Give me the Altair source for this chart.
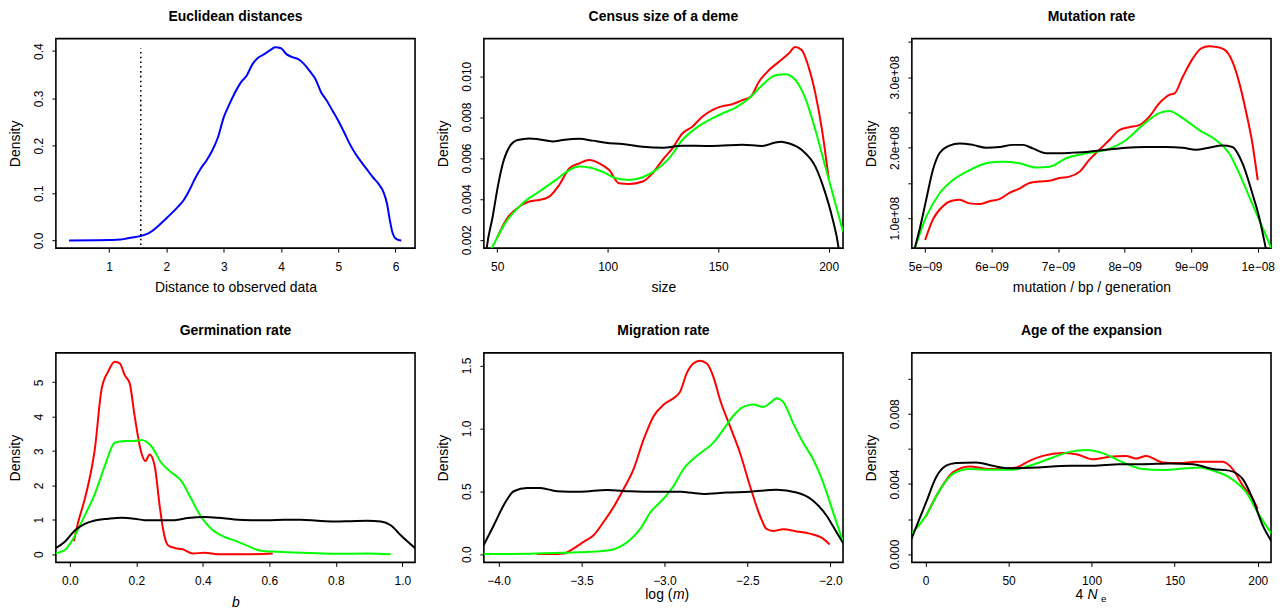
import altair as alt
import pandas as pd

FONT = "Liberation Sans"
W, H = 360, 210
LINE_W = 2.0
C_PRIOR, C_REJ, C_REG, C_OBS = "#000000", "#FF0000", "#00FF00", "#0000FF"

# ---------------- Panel 1: Euclidean distances ----------------
EUC_X = [0.3, 0.8, 1.0, 1.2, 1.3, 1.4, 1.5, 1.7, 2.0, 2.2, 2.3, 2.4, 2.5, 2.6, 2.7, 2.8, 2.9,
         3.0, 3.1, 3.2, 3.3, 3.4, 3.5, 3.6, 3.7, 3.8, 3.9, 4.0, 4.1, 4.2, 4.3, 4.4, 4.5,
         4.6, 4.7, 4.8, 4.9, 5.0, 5.1, 5.2, 5.3, 5.4, 5.5, 5.6, 5.7, 5.8, 5.85, 5.9,
         5.95, 6.0, 6.05, 6.1]
EUC_Y = [0.0, 0.0005, 0.001, 0.002, 0.004, 0.006, 0.008, 0.016, 0.047, 0.071, 0.085, 0.106,
         0.131, 0.152, 0.169, 0.190, 0.218, 0.260, 0.288, 0.313, 0.334, 0.348, 0.372,
         0.386, 0.393, 0.401, 0.408, 0.406, 0.393, 0.387, 0.383, 0.373, 0.358, 0.341,
         0.313, 0.295, 0.274, 0.253, 0.229, 0.204, 0.183, 0.166, 0.150, 0.134, 0.120,
         0.099, 0.078, 0.043, 0.015, 0.004, 0.001, 0.0]
OBS_X = [1.552]
OBS_Y0 = [-0.03]
OBS_Y1 = [0.406]

# ---------------- Panel 2: Census size of a deme ----------------
CEN_K_X = [44.6, 45.3, 48, 50.3, 52.6, 55.6, 59.3, 64.6, 69.1, 75.1, 79.6, 87.2, 93.2, 99.2,
           106.7, 115.8, 124.8, 133.8, 144.3, 150.4, 160.9, 169.9, 175.9, 178.5, 181.9,
           187.9, 194, 198.5, 201.5, 204.5, 205.3]
CEN_K_Y = [0.0009, 0.0016, 0.00314, 0.0046, 0.00574, 0.00655, 0.00688, 0.00696, 0.00691,
           0.00681, 0.00688, 0.00694, 0.00685, 0.00675, 0.00668, 0.00655, 0.0065, 0.0066,
           0.00659, 0.0066, 0.00665, 0.00659, 0.00676, 0.00680, 0.00672, 0.00639, 0.00558,
           0.00428, 0.00314, 0.0016, 0.0009]
CEN_R_X = [50.0, 54.1, 60.1, 64.6, 69.1, 73.6, 78.1, 82.7, 87.2, 91.7, 96.2, 100.7, 105.2,
           109.7, 115.8, 120.3, 124.8, 129.3, 133.8, 138.3, 142.8, 147.3, 151.9, 156.4,
           160.9, 164.7, 168.4, 172.9, 177.4, 181.9, 184.9, 187.9, 190.9, 194, 197, 200]
CEN_R_Y = [0.0021, 0.00298, 0.00363, 0.00387, 0.00395, 0.00411, 0.00468, 0.0055, 0.00574,
           0.0059, 0.00574, 0.00541, 0.00476, 0.00473, 0.00485, 0.00525, 0.0059, 0.00647,
           0.0072, 0.00753, 0.00802, 0.00834, 0.00854, 0.00863, 0.00883, 0.00899, 0.00972,
           0.01029, 0.0107, 0.01111, 0.01143, 0.01127, 0.01046, 0.00915, 0.00737, 0.005]
CEN_G_X = [45.5, 47.3, 54.1, 61.6, 69.1, 76.6, 82.7, 87.2, 91.7, 97.7, 103.7, 109.7, 115.8,
           121.8, 127.8, 133.8, 139.8, 145.8, 151.9, 157.9, 163.9, 169.9, 175.9, 180.5, 185,
           189.5, 194, 198.5, 203, 206.5]
CEN_G_Y = [0.0012, 0.00155, 0.00289, 0.00379, 0.00436, 0.00493, 0.00541, 0.00558, 0.00554,
           0.00533, 0.00501, 0.00493, 0.00506, 0.00541, 0.00598, 0.00688, 0.00745, 0.00785,
           0.00818, 0.00847, 0.00891, 0.00956, 0.01005, 0.0101, 0.00981, 0.00891, 0.00737,
           0.00558, 0.00379, 0.0024]

# ---------------- Panel 3: Mutation rate (x in 1e-9, y in 1e8) ----------------
MUT_XU, MUT_YU = 1e-9, 1e8
MUT_K_X = [4.80, 4.84, 4.915, 5.015, 5.115, 5.215, 5.366, 5.516, 5.716, 5.917, 6.117, 6.318,
           6.468, 6.618, 6.819, 7.02, 7.22, 7.42, 7.72, 8.02, 8.32, 8.62, 8.87, 9.07, 9.27,
           9.47, 9.62, 9.77, 9.92, 10.02, 10.12, 10.16]
MUT_K_Y = [0.40, 0.56, 0.835, 1.26, 1.68, 1.92, 2.03, 2.06, 2.04, 2.0, 2.01, 2.04, 2.04, 1.99,
           1.92, 1.92, 1.93, 1.94, 1.97, 2.0, 2.01, 2.01, 2.0, 1.97, 2.0, 2.03, 2.01, 1.78,
           1.35, 1.02, 0.58, 0.40]
MUT_R_X = [5.0, 5.115, 5.266, 5.416, 5.516, 5.666, 5.817, 5.967, 6.117, 6.268, 6.418, 6.568,
           6.718, 6.869, 7.02, 7.17, 7.32, 7.47, 7.62, 7.77, 7.92, 8.07, 8.22, 8.37, 8.52,
           8.67, 8.75, 8.87, 9.02, 9.15, 9.27, 9.37, 9.5, 9.62, 9.72, 9.82, 9.92, 10.0]
MUT_R_Y = [0.69, 0.98, 1.17, 1.25, 1.26, 1.21, 1.20, 1.24, 1.27, 1.36, 1.42, 1.50, 1.52, 1.53,
           1.57, 1.59, 1.66, 1.83, 1.97, 2.11, 2.25, 2.29, 2.32, 2.44, 2.63, 2.75, 2.77, 3.0,
           3.26, 3.41, 3.44, 3.43, 3.39, 3.22, 2.93, 2.53, 2.06, 1.54]
MUT_G_X = [4.80, 4.84, 5.015, 5.215, 5.416, 5.666, 5.917, 6.167, 6.418, 6.668, 6.869, 7.12,
           7.42, 7.72, 8.02, 8.27, 8.52, 8.67, 8.87, 9.12, 9.37, 9.57, 9.72, 9.87, 10.02,
           10.17, 10.20]
MUT_G_Y = [0.45, 0.56, 1.02, 1.35, 1.54, 1.68, 1.78, 1.80, 1.78, 1.72, 1.73, 1.85, 1.92, 1.97,
           2.11, 2.32, 2.49, 2.52, 2.42, 2.25, 2.11, 1.92, 1.64, 1.31, 0.98, 0.65, 0.58]

# ---------------- Panel 4: Germination rate ----------------
GER_K_X = [-0.045, -0.015, 0.015, 0.045, 0.075, 0.115, 0.155, 0.195, 0.225, 0.275, 0.315,
           0.355, 0.405, 0.445, 0.495, 0.545, 0.595, 0.645, 0.695, 0.745, 0.795, 0.845,
           0.895, 0.935, 0.965, 0.995, 1.04]
GER_K_Y = [0.16, 0.36, 0.69, 0.88, 0.98, 1.03, 1.06, 1.03, 0.99, 0.99, 0.99, 1.05, 1.08, 1.06,
           1.01, 0.99, 0.99, 1.0, 1.0, 0.97, 0.95, 0.96, 0.97, 0.95, 0.84, 0.55, 0.16]
GER_R_X = [0.012, 0.025, 0.045, 0.065, 0.075, 0.095, 0.115, 0.135, 0.15, 0.165, 0.18, 0.195,
           0.215, 0.227, 0.24, 0.255, 0.27, 0.28, 0.295, 0.315, 0.34, 0.37, 0.405, 0.445,
           0.495, 0.545, 0.61]
GER_R_Y = [0.38, 0.93, 1.61, 2.47, 3.05, 4.78, 5.31, 5.60, 5.55, 5.21, 4.97, 4.01, 2.95, 2.71,
           2.90, 2.57, 1.41, 0.74, 0.26, 0.18, 0.14, 0.02, 0.04, 0.0, 0.0, 0.0, 0.02]
GER_G_X = [-0.045, -0.015, 0.01, 0.045, 0.075, 0.105, 0.135, 0.165, 0.195, 0.215, 0.245,
           0.275, 0.305, 0.335, 0.365, 0.395, 0.425, 0.465, 0.495, 0.535, 0.575, 0.625,
           0.695, 0.795, 0.895, 0.965]
GER_G_Y = [0.02, 0.12, 0.45, 1.13, 1.75, 2.57, 3.24, 3.29, 3.29, 3.32, 3.14, 2.66, 2.38, 2.13,
           1.61, 1.08, 0.74, 0.50, 0.40, 0.24, 0.10, 0.07, 0.04, 0.01, 0.02, 0.0]

# ---------------- Panel 5: Migration rate ----------------
MIG_K_X = [-4.09, -4.028, -3.968, -3.908, -3.828, -3.747, -3.647, -3.507, -3.347, -3.206,
           -3.046, -2.906, -2.766, -2.625, -2.485, -2.325, -2.204, -2.104, -2.024, -1.964,
           -1.92]
MIG_K_Y = [0.07, 0.23, 0.39, 0.50, 0.525, 0.525, 0.50, 0.496, 0.51, 0.50, 0.496, 0.496, 0.478,
           0.49, 0.496, 0.512, 0.49, 0.425, 0.307, 0.176, 0.08]
MIG_R_X = [-3.77, -3.687, -3.607, -3.547, -3.487, -3.427, -3.367, -3.307, -3.246, -3.186,
           -3.126, -3.066, -3.006, -2.946, -2.906, -2.866, -2.826, -2.786, -2.745, -2.705,
           -2.665, -2.605, -2.545, -2.485, -2.425, -2.385, -2.345, -2.285, -2.204, -2.124,
           -2.044, -2.004]
MIG_R_Y = [0.0, 0.0, 0.005, 0.045, 0.097, 0.15, 0.255, 0.373, 0.517, 0.675, 0.91, 1.095,
           1.187, 1.24, 1.29, 1.437, 1.515, 1.537, 1.515, 1.41, 1.227, 1.017, 0.806, 0.544,
           0.307, 0.2, 0.184, 0.197, 0.18, 0.163, 0.123, 0.076]
MIG_G_X = [-4.09, -3.81, -3.61, -3.41, -3.33, -3.27, -3.21, -3.146, -3.086, -3.006, -2.946,
           -2.886, -2.806, -2.706, -2.645, -2.585, -2.525, -2.465, -2.405, -2.365, -2.325,
           -2.285, -2.224, -2.164, -2.104, -2.044, -1.984, -1.92]
MIG_G_Y = [0.0, 0.003, 0.01, 0.02, 0.03, 0.058, 0.11, 0.2, 0.33, 0.44, 0.54, 0.675, 0.78,
           0.885, 0.99, 1.10, 1.17, 1.19, 1.17, 1.2, 1.24, 1.21, 1.04, 0.885, 0.754, 0.57,
           0.334, 0.08]

# ---------------- Panel 6: Age of the expansion ----------------
AGE_K_X = [-8.5, -3.6, 0.4, 6.4, 12.4, 18.5, 30.5, 40.5, 50.6, 66.6, 86.7, 100.7, 116.8,
           130.8, 146.8, 160.9, 172.9, 182.9, 191, 197, 203, 208.5]
AGE_K_Y = [0.00085, 0.00202, 0.00296, 0.00438, 0.00504, 0.00519, 0.00523, 0.00504, 0.00489,
           0.00494, 0.00504, 0.00504, 0.00513, 0.00513, 0.00517, 0.00513, 0.00485, 0.00476,
           0.00428, 0.00315, 0.00164, 0.0007]
AGE_R_X = [0, 8.4, 16.5, 26.5, 38.5, 48.5, 54.6, 62.6, 70.6, 82.7, 90.7, 100.7, 110.7, 120.7,
           126.8, 132.8, 142.8, 152.8, 162.9, 172.9, 178.9, 184.9, 191, 197, 200]
AGE_R_Y = [0.00211, 0.00362, 0.00466, 0.005, 0.00485, 0.00489, 0.00494, 0.00532, 0.0056,
           0.00576, 0.0057, 0.00541, 0.00555, 0.0056, 0.00545, 0.0056, 0.00523, 0.00519,
           0.00526, 0.00526, 0.00526, 0.00485, 0.00391, 0.00315, 0.00259]
AGE_G_X = [-8.5, 0.4, 8.4, 16.5, 26.5, 40.5, 52.6, 62.6, 76.6, 86.7, 96.7, 106.7, 116.8,
           130.8, 142.8, 156.9, 164.9, 172.9, 182.9, 193, 201, 208.5]
AGE_G_Y = [0.00115, 0.00221, 0.00362, 0.00457, 0.00485, 0.00481, 0.00481, 0.00504, 0.00551,
           0.00583, 0.00594, 0.00576, 0.00532, 0.00485, 0.00479, 0.00489, 0.00494, 0.00476,
           0.00438, 0.00353, 0.00221, 0.00115]


def x_enc(domain, values, fmt=None, expr=None, title="", style="normal", title_y=43):
    kw = dict(values=values, title=title, titleY=title_y, titleBaseline="alphabetic",
              titleFontStyle=style)
    if fmt:
        kw["format"] = fmt
    if expr:
        kw["labelExpr"] = expr
    return alt.X("x:Q", scale=alt.Scale(domain=domain, nice=False, zero=False),
                 axis=alt.Axis(**kw))


def y_enc(domain, values, fmt=None, expr=None):
    kw = dict(values=values, title="Density", titleX=-36, titleBaseline="alphabetic")
    if fmt:
        kw["format"] = fmt
    if expr:
        kw["labelExpr"] = expr
    return alt.Y("y:Q", scale=alt.Scale(domain=domain, nice=False, zero=False),
                 axis=alt.Axis(**kw))


def line(xs, ys, color, xe, ye, xu=1.0, yu=1.0):
    df = pd.DataFrame({"x": [v * xu for v in xs], "y": [v * yu for v in ys]})
    return alt.Chart(df).mark_line(color=color, strokeWidth=LINE_W, clip=True,
                                   interpolate="monotone").encode(x=xe, y=ye)


def label(text, x, y, size=14, style="normal", align="left"):
    return alt.Chart(pd.DataFrame({"t": [text]})).mark_text(
        font=FONT, fontSize=size, fontStyle=style, align=align, baseline="alphabetic",
        color="black").encode(x=alt.value(x), y=alt.value(y), text="t:N")


def panel(title, layers):
    return alt.layer(*layers).properties(width=W, height=H, title=title)


# Panel 1
xe1 = x_enc([0.07, 6.34], [1, 2, 3, 4, 5, 6], fmt=".0f", title="Distance to observed data")
ye1 = y_enc([-0.0163, 0.4263], [0.0, 0.1, 0.2, 0.3, 0.4], fmt=".1f")
rule = alt.Chart(pd.DataFrame({"x": OBS_X, "y": OBS_Y0, "y2": OBS_Y1})).mark_rule(
    color="black", strokeWidth=1.6, strokeDash=[1.6, 3.2], clip=True
).encode(x=xe1, y=ye1, y2="y2:Q")
p1 = panel("Euclidean distances", [line(EUC_X, EUC_Y, C_OBS, xe1, ye1), rule])

# Panel 2
xe2 = x_enc([44.0, 206.5], [50, 100, 150, 200], fmt=".0f", title="size")
ye2 = y_enc([0.00159, 0.01184], [0.002, 0.004, 0.006, 0.008, 0.010], fmt=".3f")
p2 = panel("Census size of a deme", [
    line(CEN_R_X, CEN_R_Y, C_REJ, xe2, ye2),
    line(CEN_G_X, CEN_G_Y, C_REG, xe2, ye2),
    line(CEN_K_X, CEN_K_Y, C_PRIOR, xe2, ye2),
])

# Panel 3
xe3 = x_enc([4.80e-9, 10.20e-9], [5e-9, 6e-9, 7e-9, 8e-9, 9e-9, 1e-8],
            expr="datum.value > 9.5e-9 ? '1e\u221208' : format(round(datum.value*1e9), 'd') + 'e\u221209'",
            title="mutation / bp / generation")
ye3 = y_enc([0.575e8, 3.547e8], [1.0e8, 1.5e8, 2.0e8, 2.5e8, 3.0e8, 3.5e8],
            expr="abs(datum.value/1e8 - round(datum.value/1e8)) < 0.01 ? format(datum.value/1e8, '.1f') + 'e+08' : ''")
p3 = panel("Mutation rate", [
    line(MUT_R_X, MUT_R_Y, C_REJ, xe3, ye3, MUT_XU, MUT_YU),
    line(MUT_G_X, MUT_G_Y, C_REG, xe3, ye3, MUT_XU, MUT_YU),
    line(MUT_K_X, MUT_K_Y, C_PRIOR, xe3, ye3, MUT_XU, MUT_YU),
])

# Panel 4
xe4 = x_enc([-0.042, 1.038], [0.0, 0.2, 0.4, 0.6, 0.8, 1.0], fmt=".1f", title="b",
            style="italic", title_y=44)
ye4 = y_enc([-0.24, 5.856], [0, 1, 2, 3, 4, 5], fmt=".0f")
p4 = panel("Germination rate", [
    line(GER_R_X, GER_R_Y, C_REJ, xe4, ye4),
    line(GER_G_X, GER_G_Y, C_REG, xe4, ye4),
    line(GER_K_X, GER_K_Y, C_PRIOR, xe4, ye4),
])

# Panel 5
xe5 = x_enc([-4.088, -1.924], [-4.0, -3.5, -3.0, -2.5, -2.0], fmt=".1f", title="")
ye5 = y_enc([-0.066, 1.60], [0.0, 0.5, 1.0, 1.5], fmt=".1f")
p5 = panel("Migration rate", [
    line(MIG_R_X, MIG_R_Y, C_REJ, xe5, ye5),
    line(MIG_G_X, MIG_G_Y, C_REG, xe5, ye5),
    line(MIG_K_X, MIG_K_Y, C_PRIOR, xe5, ye5),
    label("log (", 189, H + 37, align="right"),
    label("m", 189.5, H + 37, style="italic"),
    label(")", 201, H + 37),
])

# Panel 6
xe6 = x_enc([-8.2, 208.0], [0, 50, 100, 150, 200], fmt=".0f", title="")
ye6 = y_enc([-0.00047, 0.01147], [0.0, 0.002, 0.004, 0.006, 0.008, 0.010],
            expr="abs(datum.value/0.004 - round(datum.value/0.004)) < 0.01 ? format(datum.value, '.3f') : ''")
p6 = panel("Age of the expansion", [
    line(AGE_R_X, AGE_R_Y, C_REJ, xe6, ye6),
    line(AGE_G_X, AGE_G_Y, C_REG, xe6, ye6),
    line(AGE_K_X, AGE_K_Y, C_PRIOR, xe6, ye6),
    label("4", 164, H + 37),
    label("N", 176, H + 37, style="italic"),
    label("e", 189.5, H + 39.5, size=10),
])

chart = alt.concat(
    p1, p2, p3, p4, p5, p6, columns=3, spacing={"row": 105, "column": 69}, bounds="flush"
).resolve_scale(
    x="independent", y="independent"
).properties(
    padding={"left": 0, "top": 0, "right": 0, "bottom": 0},
    background="white",
).configure_view(
    stroke="black", strokeWidth=1.6
).configure_axis(
    domain=False, grid=False, ticks=True, tickColor="black", tickSize=4, tickWidth=1,
    labelFont=FONT, labelFontSize=12, labelColor="black",
    titleFont=FONT, titleFontSize=14, titleFontWeight="normal", titleColor="black",
    labelOverlap=False, labelFlush=False,
).configure_axisX(
    labelPadding=9
).configure_axisY(
    labelAngle=270, labelAlign="center", labelBaseline="alphabetic", labelPadding=9
).configure_title(
    font=FONT, fontSize=14, fontWeight="bold", color="black", anchor="middle",
    frame="group", offset=14.5
)

chart.save("out.html", embed_options={"renderer": "svg", "actions": False})
